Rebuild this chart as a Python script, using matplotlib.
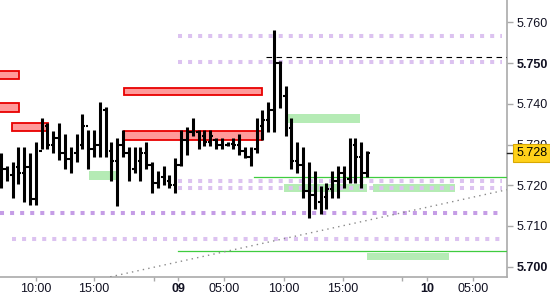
import matplotlib
matplotlib.use("Agg")
import matplotlib.pyplot as plt
import matplotlib.transforms as mtransforms
from matplotlib.patches import Rectangle

plt.rcParams['font.family'] = ['Liberation Sans', 'DejaVu Sans']

# 30 minute OHLC bars (index based time axis)
highs = [5.7278, 5.7248, 5.7256, 5.7295, 5.7295, 5.7280, 5.7305, 5.7366, 5.7354, 5.7332,
         5.7354, 5.7327, 5.7295, 5.7327, 5.7376, 5.7335, 5.7335, 5.7404, 5.7391, 5.7305,
         5.7315, 5.7335, 5.7295, 5.7293, 5.7295, 5.7305, 5.7256, 5.7236, 5.7246, 5.7224,
         5.7266, 5.7335, 5.7344, 5.7366, 5.7335, 5.7335, 5.7335, 5.7315, 5.7315, 5.7305,
         5.7315, 5.7327, 5.7293, 5.7293, 5.7366, 5.7384, 5.7404, 5.7581, 5.7505, 5.7443,
         5.7366, 5.7305, 5.7295, 5.7256, 5.7236, 5.7197, 5.7206, 5.7236, 5.7246, 5.7246,
         5.7315, 5.7315, 5.7305, 5.7285]
lows = [5.7192, 5.7211, 5.7169, 5.7204, 5.7159, 5.7152, 5.7152, 5.7290, 5.7290, 5.7280,
        5.7261, 5.7241, 5.7231, 5.7258, 5.7290, 5.7241, 5.7270, 5.7270, 5.7270, 5.7211,
        5.7150, 5.7270, 5.7211, 5.7231, 5.7211, 5.7241, 5.7182, 5.7192, 5.7201, 5.7192,
        5.7182, 5.7248, 5.7273, 5.7320, 5.7290, 5.7297, 5.7297, 5.7290, 5.7290, 5.7297,
        5.7290, 5.7273, 5.7266, 5.7248, 5.7280, 5.7310, 5.7330, 5.7330, 5.7389, 5.7320,
        5.7241, 5.7231, 5.7169, 5.7120, 5.7142, 5.7130, 5.7142, 5.7169, 5.7169, 5.7192,
        5.7206, 5.7206, 5.7192, 5.7221]
opens = [5.7260, 5.7240, 5.7225, 5.7245, 5.7230, 5.7245, 5.7165, 5.7285, 5.7345, 5.7300,
         5.7315, 5.7280, 5.7265, 5.7280, 5.7300, 5.7345, 5.7290, 5.7300, 5.7385, 5.7285,
         5.7260, 5.7300, 5.7280, 5.7240, 5.7260, 5.7280, 5.7250, 5.7205, 5.7220, 5.7210,
         5.7200, 5.7250, 5.7310, 5.7330, 5.7330, 5.7320, 5.7305, 5.7310, 5.7300, 5.7300,
         5.7302, 5.7298, 5.7285, 5.7270, 5.7290, 5.7345, 5.7360, 5.7385, 5.7500, 5.7420,
         5.7340, 5.7260, 5.7250, 5.7185, 5.7175, 5.7160, 5.7170, 5.7190, 5.7210, 5.7230,
         5.7215, 5.7300, 5.7270, 5.7230]
closes = [5.7240, 5.7225, 5.7245, 5.7230, 5.7245, 5.7165, 5.7285, 5.7345, 5.7300, 5.7315,
          5.7280, 5.7265, 5.7280, 5.7300, 5.7345, 5.7290, 5.7300, 5.7385, 5.7285, 5.7260,
          5.7300, 5.7280, 5.7220, 5.7260, 5.7280, 5.7250, 5.7205, 5.7220, 5.7210, 5.7200,
          5.7250, 5.7310, 5.7330, 5.7345, 5.7320, 5.7305, 5.7320, 5.7300, 5.7310, 5.7302,
          5.7298, 5.7285, 5.7270, 5.7290, 5.7345, 5.7360, 5.7385, 5.7500, 5.7420, 5.7340,
          5.7260, 5.7250, 5.7185, 5.7175, 5.7160, 5.7170, 5.7190, 5.7210, 5.7230, 5.7215,
          5.7300, 5.7270, 5.7230, 5.7280]
last_price = 5.728

# time axis labels (positions in bar index units)
tick_pos = [6.0, 16.0, 30.5, 38.4, 48.7, 58.9, 73.3, 81.2]
tick_labels = ['10:00', '15:00', '09', '05:00', '10:00', '15:00', '10', '05:00']
minor_pos = [26.3, 69.0]

# supply zones (red) : start, end, top, bottom
red_zones = [(-2, 3.1, 5.7480, 5.7460), (-2, 3.1, 5.7401, 5.7381), (1.9, 8.1, 5.7352, 5.7332),
             (21.2, 44.9, 5.7440, 5.7421), (21.2, 44.9, 5.7332, 5.7310)]
# demand zones (green)
green_zones = [(15.1, 20.0, 5.7234, 5.7214), (49.1, 61.8, 5.7374, 5.7352),
               (48.7, 63.0, 5.7204, 5.7184), (64.0, 78.1, 5.7204, 5.7184),
               (63.0, 77.1, 5.7034, 5.7016)]
green_levels = [(43.5, 5.7221), (30.5, 5.7039)]
purple_levels = [(30.5, 5.7566), (30.5, 5.7502), (30.5, 5.7210), (30.5, 5.7194), (1.9, 5.7067)]
purple_dark = (-0.1, 5.7132)
dashed_level = (45.6, 5.7514)
trend_x = [18.8, 87.1]
trend_y = [5.6975, 5.7189]

fig = plt.figure(figsize=(5.5, 3.0), dpi=100)
ax = fig.add_axes([0.0, 23 / 300, 507 / 550, 277 / 300])
x_end = 86.2
x_max = 87.1

for x0, x1, top, bot in red_zones:
    ax.add_patch(Rectangle((x0, bot), x1 - x0, top - bot, facecolor='#ff9a9a',
                           edgecolor='#e80000', lw=1.3, zorder=2))
for x0, x1, top, bot in green_zones:
    ax.add_patch(Rectangle((x0, bot), x1 - x0, top - bot, facecolor='#b5ebb5',
                           edgecolor='none', zorder=2))

for x0, lvl in purple_levels:
    ax.plot([x0, x_end], [lvl, lvl], color='#dcc2f0', lw=2.9, linestyle=(0, (1, 1.5)),
            dash_capstyle='butt', zorder=3)
ax.plot([purple_dark[0], x_end], [purple_dark[1]] * 2, color='#c59de6', lw=2.9,
        linestyle=(0, (1, 1.5)), dash_capstyle='butt', zorder=3)

for x0, lvl in green_levels:
    ax.plot([x0, x_max], [lvl, lvl], color='#3fcc3f', lw=0.9, zorder=3)

ax.plot([dashed_level[0], x_max], [dashed_level[1]] * 2, color='black', lw=0.8,
        linestyle=(0, (5, 4)), zorder=3)
ax.plot(trend_x, trend_y, color='#8a8a8a', lw=1.0, linestyle=(0, (1, 3)), zorder=3)

# OHLC bars
idx = list(range(len(highs)))
ax.vlines(idx, lows, highs, color='black', lw=2.2, zorder=4)
ax.hlines(opens, [i - 0.45 for i in idx], idx, color='black', lw=1.5, zorder=4)
ax.hlines(closes, idx, [i + 0.45 for i in idx], color='black', lw=1.5, zorder=4)

ax.set_xlim(-0.17, x_max)
ax.set_ylim(5.69746, 5.76549)

for s in ['left', 'top']:
    ax.spines[s].set_visible(False)
for s in ['right', 'bottom']:
    ax.spines[s].set_color('#aaaaaa')
    ax.spines[s].set_linewidth(1.2)

ax.yaxis.tick_right()
yt = [5.700, 5.710, 5.720, 5.730, 5.740, 5.750, 5.760]
ax.set_yticks(yt)
ax.set_yticklabels(['%.3f' % v for v in yt])
ax.tick_params(axis='y', which='major', length=4.3, width=1, color='#aaaaaa', pad=2.5,
               labelsize=9, labelcolor='#111122')
for lab, v in zip(ax.get_yticklabels(), yt):
    if v in (5.700, 5.750):
        lab.set_fontweight('bold')

ax.set_xticks(tick_pos)
ax.set_xticklabels(tick_labels)
ax.set_xticks(minor_pos, minor=True)
ax.tick_params(axis='x', which='both', length=3, width=1, color='#aaaaaa', pad=1.5,
               labelsize=9, labelcolor='#111122')
for lab in ax.get_xticklabels():
    if lab.get_text() in ('09', '10'):
        lab.set_fontweight('bold')

# current price marker
trans = mtransforms.blended_transform_factory(ax.transAxes, ax.transData)
ax.plot([1.0, 1.02], [last_price, last_price], color='#222222', lw=1.0, transform=trans,
        clip_on=False, zorder=5)
ax.text(1.018, last_price, '%.3f' % last_price, transform=trans, fontsize=9, color='black',
        va='center', ha='left', zorder=6,
        bbox=dict(boxstyle='square,pad=0.25', facecolor='#ffd11a', edgecolor='#d9a800', lw=0.8))

fig.savefig('out.png', dpi=100)
